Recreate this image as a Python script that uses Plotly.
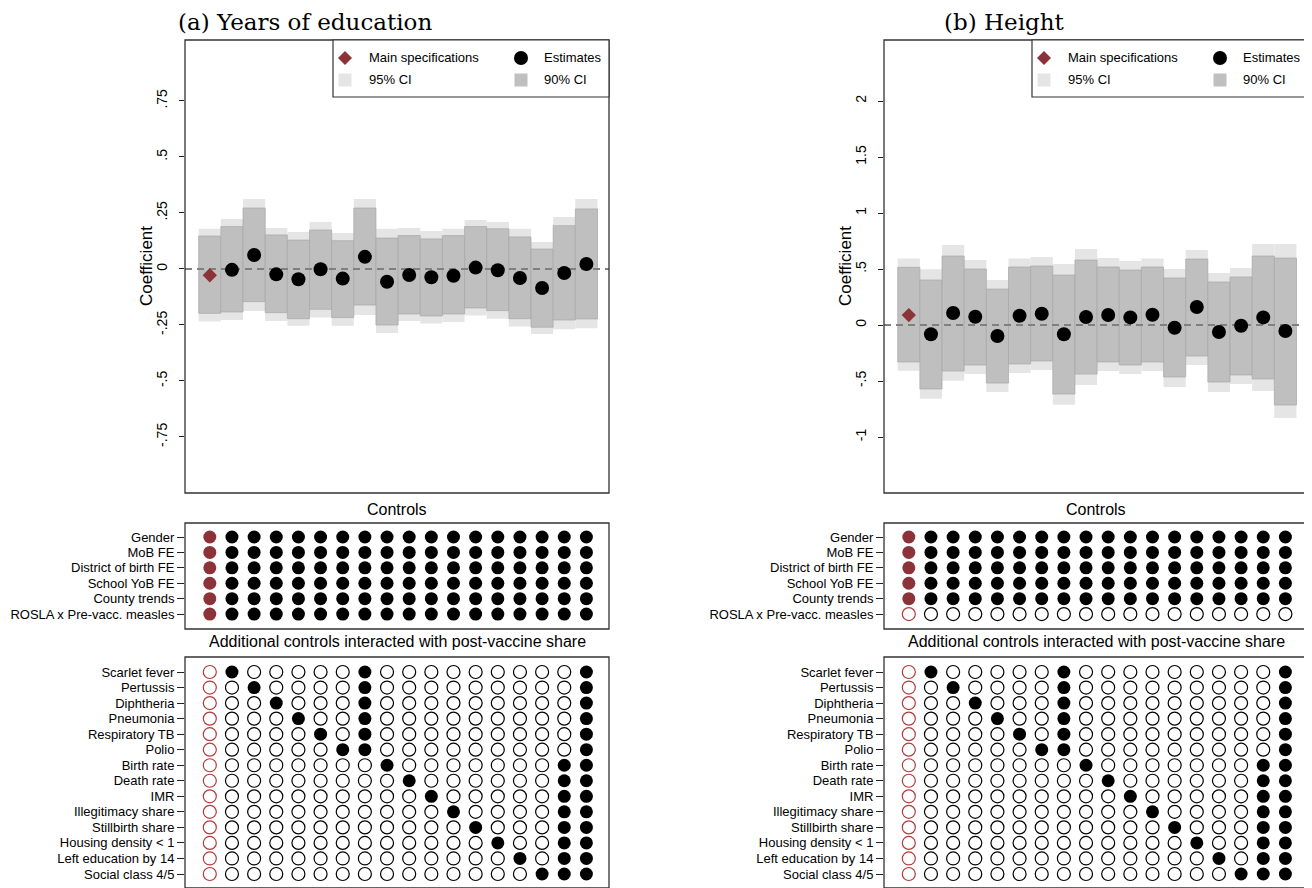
import plotly.graph_objects as go

# page has an 8px body margin: figure drawn at (8,8) -> size reduced accordingly
OFF = 8
W, H = 1312 - OFF, 888 - OFF

specs = list(range(1, 19))

# ---------------- Panel (a) Years of education ----------------
edu_est = [-0.028, -0.004, 0.062, -0.024, -0.046, -0.001, -0.043, 0.054, -0.057,
           -0.027, -0.037, -0.030, 0.006, -0.006, -0.040, -0.085, -0.018, 0.022]
edu_u95 = [0.179, 0.223, 0.312, 0.183, 0.165, 0.210, 0.161, 0.312, 0.179,
           0.183, 0.170, 0.179, 0.219, 0.210, 0.179, 0.120, 0.232, 0.312]
edu_u90 = [0.147, 0.189, 0.272, 0.152, 0.129, 0.174, 0.126, 0.272, 0.138,
           0.149, 0.134, 0.149, 0.189, 0.179, 0.143, 0.089, 0.193, 0.268]
edu_l90 = [-0.198, -0.192, -0.146, -0.195, -0.222, -0.180, -0.217, -0.161, -0.250,
           -0.201, -0.210, -0.201, -0.174, -0.186, -0.222, -0.260, -0.228, -0.223]
edu_l95 = [-0.235, -0.228, -0.188, -0.232, -0.254, -0.217, -0.254, -0.205, -0.286,
           -0.232, -0.243, -0.237, -0.208, -0.222, -0.257, -0.290, -0.269, -0.265]
edu_ticks = [-0.75, -0.5, -0.25, 0, 0.25, 0.5, 0.75]
edu_ticktext = ["-.75", "-.5", "-.25", "0", ".25", ".5", ".75"]

# ---------------- Panel (b) Height ----------------
hgt_est = [0.089, -0.083, 0.107, 0.074, -0.098, 0.083, 0.101, -0.083, 0.071,
           0.089, 0.068, 0.092, -0.024, 0.161, -0.062, -0.006, 0.068, -0.054]
hgt_u95 = [0.595, 0.497, 0.714, 0.580, 0.402, 0.595, 0.607, 0.545, 0.679,
           0.598, 0.571, 0.595, 0.500, 0.670, 0.464, 0.509, 0.723, 0.723]
hgt_u90 = [0.515, 0.402, 0.616, 0.500, 0.321, 0.518, 0.527, 0.446, 0.580,
           0.518, 0.491, 0.518, 0.420, 0.589, 0.384, 0.429, 0.616, 0.598]
hgt_l90 = [-0.330, -0.571, -0.411, -0.357, -0.518, -0.348, -0.321, -0.616, -0.438,
           -0.330, -0.357, -0.330, -0.464, -0.277, -0.509, -0.446, -0.482, -0.714]
hgt_l95 = [-0.408, -0.658, -0.497, -0.438, -0.598, -0.429, -0.402, -0.711, -0.536,
           -0.411, -0.438, -0.411, -0.554, -0.357, -0.598, -0.527, -0.589, -0.830]
hgt_ticks = [-1, -0.5, 0, 0.5, 1, 1.5, 2]
hgt_ticktext = ["-1", "-.5", "0", ".5", "1", "1.5", "2"]

# ---------------- Control matrices ----------------
base_controls = ["Gender", "MoB FE", "District of birth FE", "School YoB FE",
                 "County trends", "ROSLA x Pre-vacc. measles"]
edu_base_included = [1, 1, 1, 1, 1, 1]      # 1 = included in every specification
hgt_base_included = [1, 1, 1, 1, 1, 0]

extra_controls = ["Scarlet fever", "Pertussis", "Diphtheria", "Pneumonia",
                  "Respiratory TB", "Polio", "Birth rate", "Death rate", "IMR",
                  "Illegitimacy share", "Stillbirth share", "Housing density < 1",
                  "Left education by 14", "Social class 4/5"]
# specification numbers (1..18) in which each extra control is included
extra_included = [[2, 8, 18], [3, 8, 18], [4, 8, 18], [5, 8, 18], [6, 8, 18],
                  [7, 8, 18], [9, 17, 18], [10, 17, 18], [11, 17, 18],
                  [12, 17, 18], [13, 17, 18], [14, 17, 18], [15, 17, 18],
                  [16, 17, 18]]

LIGHT = "#e5e5e5"
DARK = "#bfbfbf"
MAROON = "#8c3339"
RED_HOLLOW = "#b23b3b"
FONT = "Liberation Sans, Arial, Helvetica, sans-serif"
SERIF = "DejaVu Serif, Liberation Serif, serif"


def fx(p):
    return (p - OFF) / W


def fy(p):
    return 1 - (p - OFF) / H


fig = go.Figure()
layout = dict(width=W, height=H, margin=dict(l=0, r=0, t=0, b=0),
              paper_bgcolor="white", plot_bgcolor="white", barmode="overlay",
              showlegend=False, font=dict(family=FONT, color="black"))
shapes = []
annotations = []

XR = [-0.12, 19.02]

panels = [
    dict(title="(a) Years of education", left=185, right=609, n=1,
         est=edu_est, u95=edu_u95, u90=edu_u90, l90=edu_l90, l95=edu_l95,
         ticks=edu_ticks, ticktext=edu_ticktext, yr=[-1.0, 1.022],
         base=edu_base_included),
    dict(title="(b) Height", left=884, right=1308, n=4,
         est=hgt_est, u95=hgt_u95, u90=hgt_u90, l90=hgt_l90, l95=hgt_l95,
         ticks=hgt_ticks, ticktext=hgt_ticktext, yr=[-1.5, 2.545],
         base=hgt_base_included),
]


def axname(n):
    return "" if n == 1 else str(n)


def add_matrix(rows, incl_fn, axx, axy):
    groups = {"fb": ([], []), "hb": ([], []), "fm": ([], []), "hr": ([], [])}
    for j, _ in enumerate(rows):
        for s in specs:
            on = incl_fn(j, s)
            if s == 1:
                key = "fm" if on else "hr"
            else:
                key = "fb" if on else "hb"
            groups[key][0].append(s)
            groups[key][1].append(j)
    styles = {
        "fb": dict(color="black", line=dict(width=0)),
        "hb": dict(color="white", line=dict(width=1.2, color="black")),
        "fm": dict(color=MAROON, line=dict(width=0)),
        "hr": dict(color="white", line=dict(width=1.2, color=RED_HOLLOW)),
    }
    for k, (xs, ys) in groups.items():
        if xs:
            fig.add_trace(go.Scatter(x=xs, y=ys, mode="markers",
                                     marker=dict(symbol="circle", size=13, **styles[k]),
                                     xaxis=axx, yaxis=axy))


for p in panels:
    n = p["n"]
    a1, a2, a3 = axname(n), axname(n + 1), axname(n + 2)
    dom = [fx(p["left"]), fx(p["right"])]

    # --- coefficient plot ---
    xa, ya = "x" + a1, "y" + a1
    fig.add_trace(go.Bar(x=specs, y=[u - l for u, l in zip(p["u95"], p["l95"])],
                         base=p["l95"], width=1, marker=dict(color=LIGHT, line=dict(width=0)),
                         xaxis=xa, yaxis=ya))
    fig.add_trace(go.Bar(x=specs, y=[u - l for u, l in zip(p["u90"], p["l90"])],
                         base=p["l90"], width=1,
                         marker=dict(color=DARK, line=dict(width=0.7, color="#a8a8a8")),
                         xaxis=xa, yaxis=ya))
    fig.add_trace(go.Scatter(x=XR, y=[0, 0], mode="lines",
                             line=dict(color="#808080", width=2, dash="7px,5px"),
                             xaxis=xa, yaxis=ya))
    fig.add_trace(go.Scatter(x=specs[1:], y=p["est"][1:], mode="markers",
                             marker=dict(symbol="circle", size=14, color="black"),
                             xaxis=xa, yaxis=ya))
    fig.add_trace(go.Scatter(x=specs[:1], y=p["est"][:1], mode="markers",
                             marker=dict(symbol="diamond", size=11, color=MAROON),
                             xaxis=xa, yaxis=ya))
    layout["xaxis" + a1] = dict(domain=dom, range=XR, visible=False, anchor=ya)
    layout["yaxis" + a1] = dict(domain=[fy(493), fy(40)], range=p["yr"], anchor=xa,
                                tickvals=p["ticks"], ticktext=p["ticktext"],
                                tickangle=-90, ticks="outside", ticklen=5,
                                tickcolor="#222", tickwidth=1.2, ticklabelstandoff=6,
                                tickfont=dict(size=14, family=FONT, color="black"),
                                showgrid=False, zeroline=False, showline=False)

    base = p["base"]
    add_matrix(base_controls, lambda j, s: base[j] == 1, "x" + a2, "y" + a2)
    layout["xaxis" + a2] = dict(domain=dom, range=XR, visible=False, anchor="y" + a2)
    layout["yaxis" + a2] = dict(domain=[fy(629), fy(523)], range=[5.97, -0.91],
                                anchor="x" + a2, tickvals=list(range(len(base_controls))),
                                ticktext=base_controls, ticks="outside", ticklen=7,
                                tickcolor="#222", tickwidth=1.2,
                                tickfont=dict(size=13, family=FONT, color="black"),
                                showgrid=False, zeroline=False, showline=False)

    add_matrix(extra_controls, lambda j, s: s in extra_included[j], "x" + a3, "y" + a3)
    layout["xaxis" + a3] = dict(domain=dom, range=XR, visible=False, anchor="y" + a3)
    layout["yaxis" + a3] = dict(domain=[0, fy(657)], range=[13.9, -0.965],
                                anchor="x" + a3, tickvals=list(range(len(extra_controls))),
                                ticktext=extra_controls, ticks="outside", ticklen=7,
                                tickcolor="#222", tickwidth=1.2,
                                tickfont=dict(size=13, family=FONT, color="black"),
                                showgrid=False, zeroline=False, showline=False)

    # --- boxes ---
    for a in (a1, a2, a3):
        shapes.append(dict(type="rect", xref="x" + a + " domain", yref="y" + a + " domain",
                           x0=0, x1=1, y0=0, y1=1, line=dict(color="#333", width=1.3),
                           layer="above"))

    L, R = p["left"], p["right"]
    cx = (L + R) / 2
    # --- legend box ---
    lb = R - 276
    shapes.append(dict(type="rect", xref="paper", yref="paper", x0=fx(lb), x1=fx(R),
                       y0=fy(97), y1=fy(40), line=dict(color="#333", width=1.2),
                       fillcolor="white", layer="above"))
    dx = R - 264
    shapes.append(dict(type="path", xref="paper", yref="paper",
                       path=f"M {fx(dx - 7)} {fy(58)} L {fx(dx)} {fy(51)} L {fx(dx + 7)} {fy(58)} L {fx(dx)} {fy(65)} Z",
                       fillcolor=MAROON, line=dict(width=0), layer="above"))
    ccx = R - 88
    shapes.append(dict(type="circle", xref="paper", yref="paper",
                       x0=fx(ccx - 7), x1=fx(ccx + 7), y0=fy(65), y1=fy(51),
                       fillcolor="black", line=dict(width=0), layer="above"))
    shapes.append(dict(type="rect", xref="paper", yref="paper",
                       x0=fx(dx - 6.5), x1=fx(dx + 6.5), y0=fy(86.5), y1=fy(73.5),
                       fillcolor=LIGHT, line=dict(width=0), layer="above"))
    shapes.append(dict(type="rect", xref="paper", yref="paper",
                       x0=fx(ccx - 6.5), x1=fx(ccx + 6.5), y0=fy(86.5), y1=fy(73.5),
                       fillcolor=DARK, line=dict(width=0), layer="above"))
    for txt, tx, ty in [("Main specifications", R - 242, 58), ("Estimates", R - 67, 58),
                        ("95% CI", R - 242, 80), ("90% CI", R - 67, 80)]:
        annotations.append(dict(text=txt, x=fx(tx), y=fy(ty), xref="paper", yref="paper",
                                xanchor="left", yanchor="middle", showarrow=False,
                                font=dict(size=13, family=FONT, color="black")))

    # --- texts ---
    annotations.append(dict(text=p["title"], x=fx(cx - 92), y=1.0, xref="paper",
                            yref="paper", xanchor="center", yanchor="top",
                            showarrow=False, borderpad=0,
                            font=dict(size=23, family=SERIF, color="black")))
    annotations.append(dict(text="Coefficient", x=fx(L - 39), y=fy(266), xref="paper",
                            yref="paper", xanchor="center", yanchor="middle",
                            textangle=-90, showarrow=False,
                            font=dict(size=17, family=FONT, color="black")))
    annotations.append(dict(text="Controls", x=fx(cx), y=fy(509), xref="paper",
                            yref="paper", xanchor="center", yanchor="middle",
                            showarrow=False, font=dict(size=16, family=FONT, color="black")))
    annotations.append(dict(text="Additional controls interacted with post-vaccine share",
                            x=fx(cx), y=fy(641), xref="paper", yref="paper",
                            xanchor="center", yanchor="middle", showarrow=False,
                            font=dict(size=16, family=FONT, color="black")))

layout["shapes"] = shapes
layout["annotations"] = annotations
fig.update_layout(**layout)
fig.write_html("out.html")
